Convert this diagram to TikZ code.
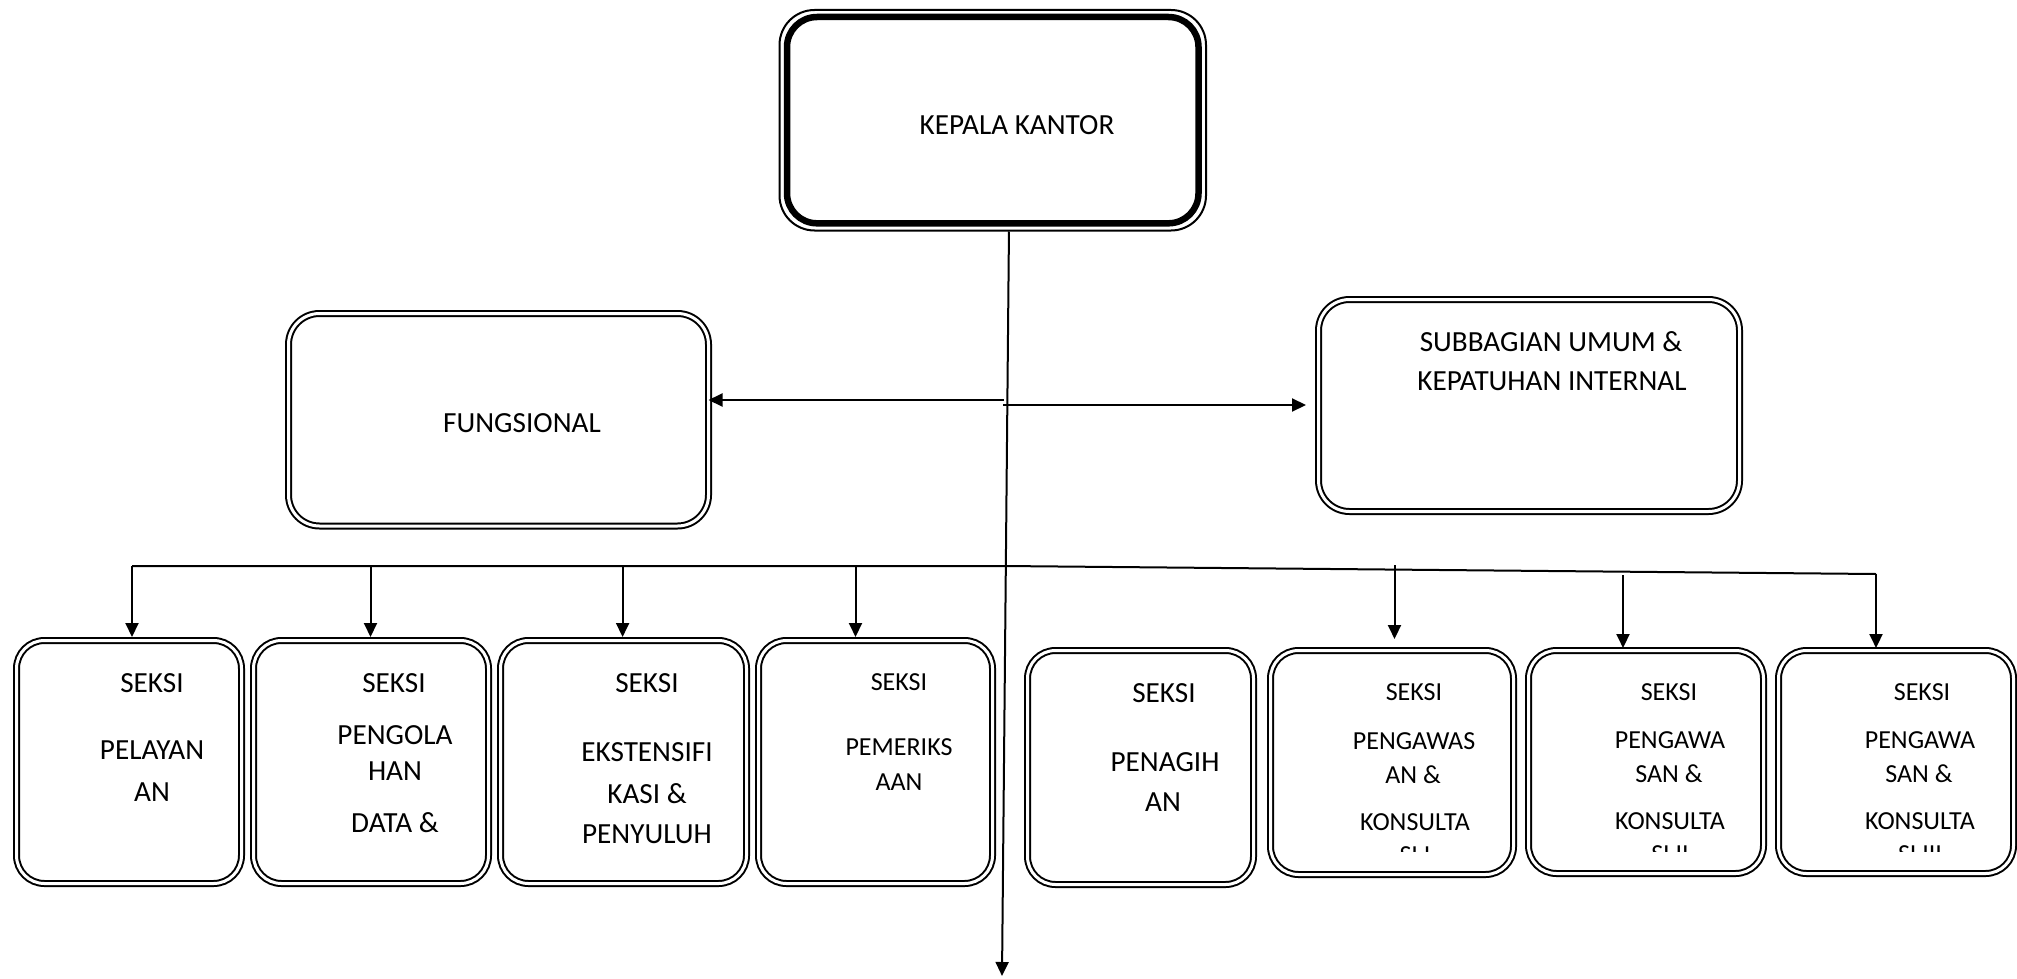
\documentclass[tikz,border=0pt]{standalone}
\usepackage{fontspec}
\setmainfont{Carlito}
\usetikzlibrary{arrows.meta,calc}
\begin{document}
\begin{tikzpicture}[x=0.5pt,y=-0.5pt,
  sbox/.style={draw, double, line width=1pt, double distance=1.5pt, rounded corners=14pt, inner sep=0pt, outer sep=0pt},
  mbox/.style={sbox, rounded corners=15.5pt},
  conn/.style={line width=1pt},
  arr/.style={line width=1pt, -{Triangle[length=7pt,width=6.5pt]}},
  lblA/.style={anchor=base, inner sep=0pt, font=\fontsize{14.6pt}{17pt}\selectfont},
  lblB/.style={anchor=base, inner sep=0pt, font=\fontsize{13pt}{15.5pt}\selectfont}]
\useasboundingbox (0,0) rectangle (2017,979);

% KEPALA KANTOR
\node[draw, line width=1pt, rounded corners=17.5pt, minimum width=213.25pt, minimum height=110.25pt, inner sep=0pt] (kepout) at (992.75,120.25) {};
\node[draw, line width=3.25pt, rounded corners=15pt, minimum width=205.75pt, minimum height=103.15pt, inner sep=0pt] (kep) at (992.75,120.15) {};
\node[lblA] (tkep) at (1017,134.3) {KEPALA KANTOR};

% FUNGSIONAL and SUBBAGIAN
\node[mbox, minimum width=210pt, minimum height=106.25pt] (fung) at (498.5,419.75) {};
\node[lblA] (tfung) at (522,432.5) {FUNGSIONAL};
\node[mbox, minimum width=210.5pt, minimum height=106pt] (subb) at (1529,405.5) {};
\node[lblA] (tsub1) at (1551,351) {SUBBAGIAN UMUM \&};
\node[lblA] (tsub2) at (1552,390.5) {KEPATUHAN INTERNAL};

% bottom boxes
\node[sbox, minimum width=112.5pt, minimum height=121.5pt] (b1) at (129,762) {};
\node[sbox, minimum width=117.5pt, minimum height=121.5pt] (b2) at (371,762) {};
\node[sbox, minimum width=123pt, minimum height=121.5pt] (b3) at (623.5,762) {};
\node[sbox, minimum width=117pt, minimum height=121.5pt] (b4) at (875.5,762) {};
\node[sbox, minimum width=113pt, minimum height=117pt] (b5) at (1140.5,767.5) {};
\node[sbox, minimum width=121.5pt, minimum height=112pt] (b6) at (1392,762.5) {};
\node[sbox, minimum width=117.5pt, minimum height=111.5pt] (b7) at (1646,762) {};
\node[sbox, minimum width=117.5pt, minimum height=111.5pt] (b8) at (1896,762) {};

% texts
\node[lblA] (t1a) at (152,692.3) {SEKSI};
\node[lblA] (t1b) at (152,759.3) {PELAYAN};
\node[lblA] (t1c) at (152,801.3) {AN};

\node[lblA] (t2a) at (394,692.3) {SEKSI};
\node[lblA] (t2b) at (395,744.3) {PENGOLA};
\node[lblA] (t2c) at (395,780.3) {HAN};
\node[lblA] (t2d) at (395,832.3) {DATA \&};

\node[lblA] (t3a) at (647,692.3) {SEKSI};
\node[lblA] (t3b) at (647,761.3) {EKSTENSIFI};
\node[lblA] (t3c) at (647,803.3) {KASI \&};
\node[lblA] (t3d) at (647,843.3) {PENYULUH};

\node[lblB] (t4a) at (899,690.4) {SEKSI};
\node[lblB] (t4b) at (899,755.4) {PEMERIKS};
\node[lblB] (t4c) at (899,790.4) {AAN};

\node[lblA] (t5a) at (1164,702.3) {SEKSI};
\node[lblA] (t5b) at (1165,771.3) {PENAGIH};
\node[lblA] (t5c) at (1163,811.3) {AN};

\begin{scope}
\clip (1270,0) rectangle (2017,851);
\node[lblB] (t6a) at (1414,700.4) {SEKSI};
\node[lblB] (t6b) at (1414,749.4) {PENGAWAS};
\node[lblB] (t6c) at (1413,783.4) {AN \&};
\node[lblB] (t6d) at (1415,830.4) {KONSULTA};
\node[lblB] (t6e) at (1415,863) {SI I};
\node[lblB] (t7a) at (1669,700.4) {SEKSI};
\node[lblB] (t7b) at (1670,748.4) {PENGAWA};
\node[lblB] (t7c) at (1669,782.4) {SAN \&};
\node[lblB] (t7d) at (1670,829.4) {KONSULTA};
\node[lblB] (t7e) at (1670,862) {SI II};
\node[lblB] (t8a) at (1922,700.4) {SEKSI};
\node[lblB] (t8b) at (1920,748.4) {PENGAWA};
\node[lblB] (t8c) at (1919,782.4) {SAN \&};
\node[lblB] (t8d) at (1920,829.4) {KONSULTA};
\node[lblB] (t8e) at (1920,862) {SI III};
\end{scope}

% connectors
\coordinate (kbot) at (1002,976);
\draw[arr] ([xshift=8.1pt]kepout.south) -- (kbot);

\coordinate (hl) at (1004,400);
\coordinate (hr) at (1003,405);
\draw[arr] (hl) -- (hl -| fung.east);
\draw[arr, shorten >=6.25pt] (hr) -- (hr -| subb.west);

\coordinate (bL) at (132,566);
\coordinate (bM) at (1004,566);
\coordinate (bR) at (1876,574);
\coordinate (a2) at (370.5,566);
\coordinate (a3) at (622.6,566);
\coordinate (a4) at (855.5,566);
\coordinate (a6) at (1394.5,565);
\coordinate (a7) at (1623,575);
\draw[conn] (bL) -- (bM) -- (bR);
\draw[arr, shorten >=1.75pt] (bL) -- (bL |- b1.north);
\draw[arr, shorten >=1.75pt] (a2) -- (a2 |- b2.north);
\draw[arr, shorten >=1.75pt] (a3) -- (a3 |- b3.north);
\draw[arr, shorten >=1.75pt] (a4) -- (a4 |- b4.north);
\draw[arr, shorten >=5.75pt] (a6) -- (a6 |- b6.north);
\draw[arr, shorten >=1.25pt] (a7) -- (a7 |- b7.north);
\draw[arr, shorten >=1.25pt] (bR) -- (bR |- b8.north);
\end{tikzpicture}
\end{document}
